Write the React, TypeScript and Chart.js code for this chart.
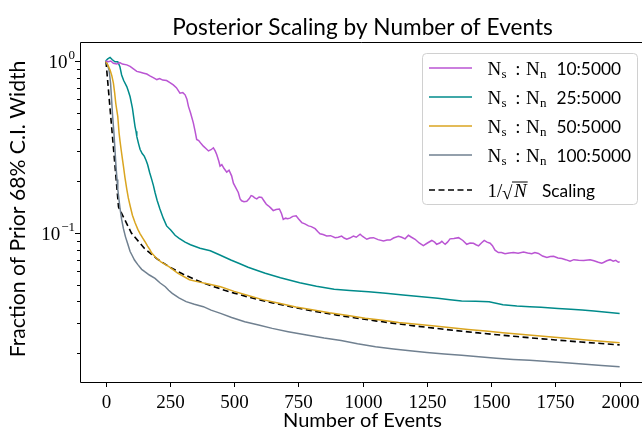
import React, { useEffect, useRef } from "react";
import { Chart, registerables } from "chart.js";

Chart.register(...registerables);

// ---- data -------------------------------------------------------------
const xTickValues = [0, 250, 500, 750, 1000, 1250, 1500, 1750, 2000];
const yMajorTicks = [1, 0.1];
const yMinorTicks = [0.9, 0.8, 0.7, 0.6, 0.5, 0.4, 0.3, 0.2, 0.09, 0.08, 0.07, 0.06, 0.05, 0.04, 0.03, 0.02];

const ratio10Events = [0, 10, 20, 30, 43, 55, 65, 82, 95, 108, 121, 135, 148, 160, 172, 185, 199, 210, 222, 237, 250, 263, 275, 289, 300, 309, 316, 322, 330, 341, 348, 354, 362, 372, 380, 390, 400, 410, 419, 426, 432, 440, 445, 452, 460, 471, 480, 490, 497, 505, 516, 523, 529, 538, 549, 558, 566, 572, 580, 588, 597, 607, 617, 625, 633, 642, 652, 663, 676, 684, 691, 700, 708, 717, 728, 741, 750, 763, 775, 789, 800, 815, 825, 834, 846, 860, 875, 893, 905, 918, 928, 938, 950, 964, 975, 990, 1000, 1016, 1028, 1042, 1060, 1081, 1095, 1107, 1120, 1139, 1152, 1165, 1178, 1190, 1204, 1220, 1236, 1252, 1269, 1280, 1288, 1300, 1308, 1315, 1321, 1330, 1340, 1355, 1373, 1390, 1405, 1418, 1431, 1441, 1451, 1462, 1473, 1484, 1496, 1505, 1515, 1528, 1540, 1554, 1570, 1587, 1605, 1626, 1642, 1658, 1670, 1684, 1700, 1717, 1730, 1743, 1760, 1775, 1790, 1807, 1822, 1840, 1860, 1885, 1900, 1917, 1930, 1937, 1950, 1963, 1975, 1985, 1995, 2000];
const ratio10Width = [1.0, 0.99, 1.0, 0.97, 0.96, 0.98, 0.96, 0.95, 0.93, 0.9, 0.87, 0.86, 0.85, 0.84, 0.82, 0.8, 0.78, 0.79, 0.775, 0.77, 0.75, 0.727, 0.7, 0.65, 0.655, 0.636, 0.6, 0.545, 0.5, 0.437, 0.39, 0.35, 0.345, 0.33, 0.32, 0.31, 0.3, 0.305, 0.313, 0.3, 0.286, 0.262, 0.245, 0.25, 0.238, 0.226, 0.232, 0.215, 0.195, 0.185, 0.172, 0.158, 0.154, 0.152, 0.153, 0.158, 0.165, 0.164, 0.16, 0.158, 0.162, 0.161, 0.153, 0.147, 0.144, 0.14, 0.135, 0.137, 0.138, 0.13, 0.12, 0.122, 0.121, 0.122, 0.125, 0.126, 0.121, 0.115, 0.113, 0.11, 0.109, 0.106, 0.102, 0.099, 0.098, 0.0962, 0.0965, 0.094, 0.0945, 0.096, 0.0935, 0.092, 0.0935, 0.096, 0.0945, 0.0985, 0.0955, 0.092, 0.0935, 0.094, 0.0915, 0.0898, 0.091, 0.091, 0.0935, 0.0958, 0.0945, 0.0925, 0.097, 0.0945, 0.092, 0.0875, 0.0845, 0.0875, 0.0905, 0.0885, 0.086, 0.0875, 0.0895, 0.0875, 0.086, 0.0885, 0.0925, 0.093, 0.094, 0.0905, 0.086, 0.0875, 0.0872, 0.0855, 0.0842, 0.0875, 0.0905, 0.0885, 0.0872, 0.0845, 0.0795, 0.077, 0.077, 0.0758, 0.0765, 0.077, 0.0763, 0.0775, 0.0765, 0.0758, 0.077, 0.0761, 0.0735, 0.072, 0.073, 0.0733, 0.0716, 0.071, 0.07, 0.0686, 0.07, 0.0695, 0.0693, 0.07, 0.069, 0.0676, 0.0668, 0.0674, 0.069, 0.07, 0.0686, 0.0694, 0.0676, 0.068];

const ratio25Events = [0, 8, 17, 25, 36, 47, 55, 62, 70, 82, 88, 95, 104, 110, 114, 118, 121, 128, 134, 142, 150, 157, 163, 171, 179, 186, 192, 200, 211, 224, 237, 253, 270, 286, 309, 330, 367, 407, 440, 487, 520, 554, 590, 621, 680, 755, 820, 889, 950, 1023, 1090, 1157, 1230, 1292, 1340, 1385, 1440, 1492, 1546, 1600, 1650, 1694, 1760, 1810, 1854, 1900, 1950, 2000];
const ratio25Width = [1.0, 1.03, 1.05, 1.02, 0.99, 0.99, 0.93, 0.83, 0.77, 0.71, 0.67, 0.62, 0.533, 0.46, 0.417, 0.39, 0.365, 0.33, 0.306, 0.29, 0.28, 0.265, 0.25, 0.225, 0.205, 0.188, 0.172, 0.155, 0.138, 0.122, 0.11, 0.104, 0.097, 0.0932, 0.0885, 0.0855, 0.0815, 0.0789, 0.075, 0.0697, 0.0665, 0.0632, 0.0605, 0.0583, 0.055, 0.0514, 0.049, 0.0471, 0.0463, 0.0456, 0.0446, 0.0436, 0.0426, 0.0417, 0.0409, 0.0403, 0.0401, 0.0399, 0.0383, 0.0377, 0.0373, 0.037, 0.0364, 0.036, 0.0357, 0.0352, 0.0346, 0.0341];

const ratio50Events = [0, 8, 17, 24, 30, 35, 39, 43, 47, 52, 56, 60, 65, 69, 75, 82, 88, 95, 104, 114, 125, 134, 143, 153, 163, 172, 179, 195, 215, 246, 280, 326, 360, 400, 447, 500, 554, 610, 675, 740, 809, 870, 943, 1010, 1077, 1140, 1211, 1280, 1345, 1410, 1479, 1545, 1613, 1680, 1747, 1815, 1881, 1940, 2000];
const ratio50Width = [1.0, 0.95, 0.887, 0.82, 0.743, 0.65, 0.57, 0.52, 0.476, 0.382, 0.34, 0.306, 0.27, 0.245, 0.21, 0.18, 0.16, 0.144, 0.127, 0.115, 0.105, 0.099, 0.094, 0.089, 0.084, 0.08, 0.0765, 0.072, 0.068, 0.0637, 0.0585, 0.0535, 0.052, 0.0505, 0.0487, 0.0458, 0.0433, 0.041, 0.0391, 0.0372, 0.0357, 0.0344, 0.0331, 0.032, 0.0311, 0.0302, 0.0295, 0.0288, 0.0281, 0.0275, 0.0269, 0.0263, 0.0258, 0.0253, 0.0248, 0.0243, 0.0238, 0.0234, 0.023];

const ratio100Events = [0, 5, 13, 19, 23, 27, 32, 36, 40, 44, 47, 52, 56, 62, 69, 77, 85, 95, 104, 112, 125, 140, 152, 170, 192, 212, 232, 245, 259, 285, 313, 345, 380, 410, 447, 490, 541, 595, 648, 710, 782, 850, 916, 980, 1050, 1120, 1184, 1250, 1318, 1385, 1452, 1520, 1586, 1650, 1720, 1790, 1854, 1930, 2000];
const ratio100Width = [1.0, 0.97, 0.887, 0.743, 0.595, 0.476, 0.382, 0.306, 0.245, 0.205, 0.18, 0.155, 0.138, 0.12, 0.106, 0.095, 0.0871, 0.078, 0.0735, 0.0697, 0.0655, 0.0615, 0.0596, 0.057, 0.0545, 0.0512, 0.0487, 0.0465, 0.0446, 0.042, 0.0399, 0.0385, 0.0373, 0.0356, 0.0341, 0.0323, 0.0305, 0.0292, 0.0279, 0.0267, 0.0255, 0.0245, 0.0237, 0.0227, 0.0218, 0.0212, 0.0207, 0.0202, 0.0198, 0.0195, 0.0191, 0.0187, 0.0184, 0.0182, 0.0179, 0.0176, 0.0173, 0.017, 0.0167];

// reference 1/sqrt(N) curve, evaluated every 50 events
const scalingEvents = [1, 50, 100, 150, 200, 250, 300, 350, 400, 450, 500, 550, 600, 650, 700, 750, 800, 850, 900, 950, 1000, 1050, 1100, 1150, 1200, 1250, 1300, 1350, 1400, 1450, 1500, 1550, 1600, 1650, 1700, 1750, 1800, 1850, 1900, 1950, 2000];

const seriesLabels = ["10:5000", "25:5000", "50:5000", "100:5000"];
const seriesColors = ["#BA55D3", "#008B8B", "#DAA520", "#708090"];

// ---- fonts ------------------------------------------------------------
const SERIF = '"Liberation Serif", "DejaVu Serif", serif';
const SANS = 'Lato, "Noto Sans", sans-serif';

const zip = (xs: number[], ys: number[]) => xs.map((x, i) => ({ x, y: ys[i] }));

// font size (px) at which `text` in `family` is `width` pixels wide
function sizeForWidth(ctx: CanvasRenderingContext2D, text: string, family: string, width: number) {
  ctx.font = `100px ${family}`;
  return (100 * width) / ctx.measureText(text).width;
}

const frameAndText = {
  id: "frameAndText",
  afterDraw(chart: any) {
    const ctx: CanvasRenderingContext2D = chart.ctx;
    const { left, right, top, bottom } = chart.chartArea;
    const xs = chart.scales.x;
    const ys = chart.scales.y;
    const axesCenter = (left + 645) / 2;
    ctx.save();

    // frame (right spine lies beyond the canvas edge)
    ctx.strokeStyle = "#000";
    ctx.lineWidth = 1;
    ctx.beginPath();
    ctx.moveTo(right + 5, top + 0.5);
    ctx.lineTo(left + 0.5, top + 0.5);
    ctx.lineTo(left + 0.5, bottom + 0.5);
    ctx.lineTo(right + 5, bottom + 0.5);
    ctx.stroke();

    // x ticks + labels
    ctx.fillStyle = "#000";
    ctx.font = `19px ${SERIF}`;
    ctx.textAlign = "center";
    ctx.textBaseline = "alphabetic";
    for (const v of xTickValues) {
      const px = Math.round(xs.getPixelForValue(v)) + 0.5;
      ctx.beginPath();
      ctx.moveTo(px, bottom);
      ctx.lineTo(px, bottom + 5);
      ctx.stroke();
      ctx.fillText(String(v), px, bottom + 26);
    }

    // y ticks + labels
    for (const v of yMinorTicks) {
      const py = Math.round(ys.getPixelForValue(v)) + 0.5;
      ctx.beginPath();
      ctx.moveTo(left, py);
      ctx.lineTo(left - 3, py);
      ctx.stroke();
    }
    for (const v of yMajorTicks) {
      const py = Math.round(ys.getPixelForValue(v)) + 0.5;
      ctx.beginPath();
      ctx.moveTo(left, py);
      ctx.lineTo(left - 5, py);
      ctx.stroke();
      const exp = String(Math.round(Math.log10(v))).replace("-", "\u2212");
      ctx.textAlign = "right";
      ctx.font = `13px ${SERIF}`;
      const ew = ctx.measureText(exp).width;
      const xr = left - 5;
      ctx.fillText(exp, xr, py - 3);
      ctx.font = `19px ${SERIF}`;
      ctx.fillText("10", xr - ew - 1, py + 6);
    }

    // title
    ctx.textAlign = "center";
    const title = "Posterior Scaling by Number of Events";
    ctx.font = `${sizeForWidth(ctx, title, SANS, 381)}px ${SANS}`;
    ctx.fillText(title, axesCenter, 35);

    // x axis title
    const xTitle = "Number of Events";
    ctx.font = `${sizeForWidth(ctx, xTitle, SANS, 159)}px ${SANS}`;
    ctx.fillText(xTitle, axesCenter, 427);

    // y axis title
    const yTitle = "Fraction of Prior 68% C.I. Width";
    ctx.font = `${sizeForWidth(ctx, yTitle, SANS, 297)}px ${SANS}`;
    ctx.save();
    ctx.translate(25, 209);
    ctx.rotate(-Math.PI / 2);
    ctx.fillText(yTitle, 0, 0);
    ctx.restore();

    // legend
    const bx = 422, by = 53, bw = 215, bh = 151;
    ctx.beginPath();
    ctx.roundRect(bx + 0.5, by + 0.5, bw, bh, 4);
    ctx.fillStyle = "rgba(255,255,255,0.8)";
    ctx.fill();
    ctx.strokeStyle = "#d0d0d0";
    ctx.stroke();

    const legendSans = sizeForWidth(ctx, "10:5000", SANS, 64.5);
    const rowY = [68, 97, 126, 155, 190];
    ctx.textAlign = "left";
    seriesLabels.forEach((lab, i) => {
      const y = rowY[i];
      ctx.strokeStyle = seriesColors[i];
      ctx.lineWidth = 1.5;
      ctx.setLineDash([]);
      ctx.beginPath();
      ctx.moveTo(429, y);
      ctx.lineTo(472, y);
      ctx.stroke();
      ctx.fillStyle = "#000";
      const base = y + 6.5;
      ctx.textAlign = "left";
      ctx.font = `19px ${SERIF}`;
      ctx.fillText("N", 487.5, base);
      ctx.fillText("N", 526, base);
      ctx.textAlign = "center";
      ctx.fillText(":", 518, base);
      ctx.textAlign = "left";
      ctx.font = `13px ${SERIF}`;
      ctx.fillText("s", 501.5, base + 3);
      ctx.fillText("n", 540, base + 3);
      ctx.font = `${legendSans}px ${SANS}`;
      ctx.fillText(lab, 556.5, base);
    });
    {
      const y = rowY[4];
      ctx.strokeStyle = "#000";
      ctx.lineWidth = 1.5;
      ctx.setLineDash([6, 3.5]);
      ctx.beginPath();
      ctx.moveTo(429, y);
      ctx.lineTo(472, y);
      ctx.stroke();
      ctx.setLineDash([]);
      const base = y + 7;
      ctx.textAlign = "left";
      ctx.font = `19px ${SERIF}`;
      ctx.fillText("1/", 487.5, base);
      ctx.fillText("\u221A", 502, base + 2);
      ctx.font = `italic 19px ${SERIF}`;
      ctx.fillText("N", 514, base);
      const nw = ctx.measureText("N").width;
      ctx.lineWidth = 1;
      ctx.beginPath();
      ctx.moveTo(512, base - 15);
      ctx.lineTo(514 + nw + 1, base - 15);
      ctx.stroke();
      ctx.font = `${legendSans}px ${SANS}`;
      ctx.fillText("Scaling", 542, base);
    }
    ctx.restore();
  },
};

export default function App() {
  const canvasRef = useRef<HTMLCanvasElement | null>(null);

  useEffect(() => {
    if (!canvasRef.current) return;
    const lineDs = (label: string, xs: number[], ys: number[], color: string) => ({
      label,
      data: zip(xs, ys),
      borderColor: color,
      borderWidth: 1.5,
      pointRadius: 0,
      tension: 0,
      fill: false,
    });
    const chart = new Chart(canvasRef.current, {
      type: "line",
      data: {
        datasets: [
          lineDs(seriesLabels[0], ratio10Events, ratio10Width, seriesColors[0]),
          lineDs(seriesLabels[1], ratio25Events, ratio25Width, seriesColors[1]),
          lineDs(seriesLabels[2], ratio50Events, ratio50Width, seriesColors[2]),
          lineDs(seriesLabels[3], ratio100Events, ratio100Width, seriesColors[3]),
          {
            label: "1/sqrt(N) scaling",
            data: scalingEvents.map((n) => ({ x: n, y: 1 / Math.sqrt(n) })),
            borderColor: "#000",
            borderWidth: 1.6,
            borderDash: [6, 3.5],
            pointRadius: 0,
            tension: 0,
            fill: false,
          },
        ],
      },
      options: {
        animation: false,
        responsive: true,
        maintainAspectRatio: false,
        layout: { padding: { top: 42, left: 0, right: 0, bottom: 0 } },
        plugins: { legend: { display: false }, title: { display: false }, tooltip: { enabled: false } },
        scales: {
          x: {
            type: "linear",
            min: -100,
            max: 2087,
            grid: { display: false },
            border: { display: false },
            ticks: { display: false },
            afterFit: (s: any) => { s.height = 50; },
          },
          y: {
            type: "logarithmic",
            min: 0.01361,
            max: 1.29,
            grid: { display: false },
            border: { display: false },
            ticks: { display: false },
            afterFit: (s: any) => { s.width = 80; },
          },
        },
      },
      plugins: [frameAndText],
    } as any);
    return () => chart.destroy();
  }, []);

  return (
    <div style={{ position: "fixed", left: 0, top: 0, width: 642, height: 432, background: "#fff" }}>
      <canvas ref={canvasRef} />
    </div>
  );
}
